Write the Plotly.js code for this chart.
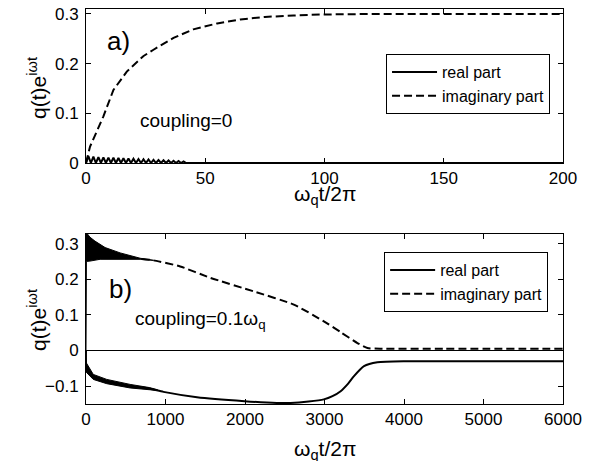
<!DOCTYPE html>
<html>
<head>
<meta charset="utf-8">
<script src="https://cdn.plot.ly/plotly-3.0.1.min.js"></script>
<style>html,body{margin:0;padding:0;background:#fff;}#chart{width:591px;height:461px;}</style>
</head>
<body>
<div id="chart"></div>
<script>
// ---------- Panel a) coupling = 0 ----------
var realT_a = [0, 1.0, 2.05, 3.1, 4.15, 5.2, 6.25, 7.3, 8.35, 9.4, 10.45, 11.5, 12.55, 13.6, 14.65, 15.7, 16.75, 17.8, 18.85, 19.9, 20.95, 22.0, 23.05, 24.1, 25.15, 26.2, 27.25, 28.3, 29.35, 30.4, 31.45, 32.5, 33.55, 34.6, 35.65, 36.7, 37.75, 38.8, 39.85, 40.9, 42, 45, 200];
var realQ_a = [0, 0.014, 0, 0.013, 0, 0.012, 0, 0.0115, 0, 0.011, 0, 0.0105, 0, 0.010, 0, 0.0095, 0, 0.009, 0, 0.0085, 0, 0.008, 0, 0.0075, 0, 0.007, 0, 0.0065, 0, 0.006, 0, 0.0055, 0, 0.005, 0, 0.0045, 0, 0.004, 0, 0.003, 0, 0, 0];
var imagT_a = [0, 1.7, 7.3, 11.5, 17.1, 24, 28.3, 36.7, 45, 55, 64.7, 75, 87, 100, 120, 150, 200];
var imagQ_a = [0, 0.033, 0.094, 0.147, 0.184, 0.215, 0.228, 0.252, 0.269, 0.281, 0.289, 0.294, 0.297, 0.299, 0.300, 0.300, 0.300];

// ---------- Panel b) coupling = 0.1 omega_q ----------
// fast-oscillation envelopes (drawn as filled bands)
var imagBandUpperT_b = [0, 8, 50, 113, 240, 429, 681, 850];
var imagBandUpperQ_b = [0.33, 0.33, 0.318, 0.307, 0.289, 0.274, 0.259, 0.253];
var imagBandLowerT_b = [0, 5, 50, 177, 429, 681, 850];
var imagBandLowerQ_b = [0, 0.25, 0.251, 0.256, 0.257, 0.256, 0.253];
var realBandUpperT_b = [0, 5, 92, 261, 555, 800, 900];
var realBandUpperQ_b = [0, -0.035, -0.067, -0.081, -0.095, -0.104, -0.110];
var realBandLowerT_b = [0, 8, 92, 261, 555, 800, 900];
var realBandLowerQ_b = [-0.06, -0.062, -0.081, -0.093, -0.105, -0.110, -0.112];
// slow parts
var imagT_b = [700, 850, 1185, 1564, 2110, 2614, 2992, 3200, 3414, 3540, 3700, 4500, 6000];
var imagQ_b = [0.257, 0.253, 0.236, 0.204, 0.166, 0.129, 0.082, 0.052, 0.021, 0.007, 0.005, 0.005, 0.005];
var realT_b = [0, 5, 92, 261, 555, 800, 975, 1396, 1996, 2400, 2573, 2800, 2992, 3100, 3203, 3300, 3371, 3497, 3665, 4044, 6000];
var realQ_b = [0, -0.048, -0.074, -0.087, -0.100, -0.107, -0.116, -0.131, -0.142, -0.147, -0.147, -0.143, -0.137, -0.128, -0.114, -0.092, -0.072, -0.044, -0.033, -0.030, -0.030];

var legendLabels = ['real part', 'imaginary part'];
var xTicks_a = [0, 50, 100, 150, 200];
var xTicks_b = [0, 1000, 2000, 3000, 4000, 5000, 6000];
var yTicks_a = [0, 0.1, 0.2, 0.3];
var yTicks_b = [-0.1, 0, 0.1, 0.2, 0.3];

function polygon(ut, uq, lt, lq) {
  return {x: ut.concat(lt.slice().reverse()), y: uq.concat(lq.slice().reverse())};
}
var imagBand = polygon(imagBandUpperT_b, imagBandUpperQ_b, imagBandLowerT_b, imagBandLowerQ_b);
var realBand = polygon(realBandUpperT_b, realBandUpperQ_b, realBandLowerT_b, realBandLowerQ_b);

var FONT = 'Arial, "Liberation Sans", sans-serif';
var DASH = '8px,4px';

var traces = [
  {x: realT_a, y: realQ_a, xaxis: 'x', yaxis: 'y', mode: 'lines', name: legendLabels[0],
   line: {color: '#000', width: 2}, legend: 'legend'},
  {x: imagT_a, y: imagQ_a, xaxis: 'x', yaxis: 'y', mode: 'lines', name: legendLabels[1],
   line: {color: '#000', width: 2, dash: DASH}, legend: 'legend'},
  {x: imagBand.x, y: imagBand.y, xaxis: 'x2', yaxis: 'y2', mode: 'lines', fill: 'toself',
   fillcolor: '#000', line: {color: '#000', width: 1}, showlegend: false, hoverinfo: 'skip'},
  {x: realBand.x, y: realBand.y, xaxis: 'x2', yaxis: 'y2', mode: 'lines', fill: 'toself',
   fillcolor: '#000', line: {color: '#000', width: 1}, showlegend: false, hoverinfo: 'skip'},
  {x: realT_b, y: realQ_b, xaxis: 'x2', yaxis: 'y2', mode: 'lines', name: legendLabels[0],
   line: {color: '#000', width: 2, shape: 'spline', smoothing: 0.6}, legend: 'legend2'},
  {x: imagT_b, y: imagQ_b, xaxis: 'x2', yaxis: 'y2', mode: 'lines', name: legendLabels[1],
   line: {color: '#000', width: 2, dash: DASH, shape: 'spline', smoothing: 0.5}, legend: 'legend2'}
];

function xAxis(range, ticks, anchor) {
  return {anchor: anchor, domain: [0, 1], range: range, tickmode: 'array', tickvals: ticks,
    ticks: 'inside', ticklen: 5, tickwidth: 1, tickcolor: '#000', showline: true, linecolor: '#000',
    linewidth: 1, mirror: 'ticks', showgrid: false, zeroline: false,
    tickfont: {family: FONT, size: 17, color: '#000'}, ticklabelstandoff: 0};
}
function yAxis(range, ticks, domain, anchor, zl) {
  return {anchor: anchor, domain: domain, range: range, tickmode: 'array', tickvals: ticks,
    ticks: 'inside', ticklen: 5, tickwidth: 1, tickcolor: '#000', showline: true, linecolor: '#000',
    linewidth: 1, mirror: 'ticks', showgrid: false, zeroline: zl, zerolinecolor: '#000', zerolinewidth: 1,
    tickfont: {family: FONT, size: 17, color: '#000'}, ticklabelstandoff: 3};
}

var legendCommon = {xanchor: 'left', yanchor: 'top', bgcolor: '#fff', bordercolor: '#000', borderwidth: 1,
  font: {family: FONT, size: 16, color: '#000'}, itemwidth: 45, tracegroupgap: 0};

function txt(text, xref, yref, x, y, size, xa, ya, angle) {
  return {text: text, xref: xref, yref: yref, x: x, y: y, xanchor: xa || 'center', yanchor: ya || 'middle',
    textangle: angle || 0, showarrow: false, font: {family: FONT, size: size, color: '#000'}};
}

var Y_TITLE = 'q(t)e<sup>iωt</sup>';
var X_TITLE = 'ω<sub>q</sub>t/2π';

var layout = {
  width: 591, height: 461,
  margin: {l: 86, r: 28, t: 9, b: 57},
  paper_bgcolor: '#fff', plot_bgcolor: '#fff',
  font: {family: FONT, color: '#000'},
  showlegend: true,
  xaxis: xAxis([0, 200], xTicks_a, 'y'),
  yaxis: yAxis([0, 0.31], yTicks_a, [0.6101, 1], 'x', false),
  xaxis2: xAxis([0, 6000], xTicks_b, 'y2'),
  yaxis2: yAxis([-0.15, 0.327], yTicks_b, [0, 0.4304], 'x2', true),
  legend: Object.assign({x: 0.629, y: 0.886}, legendCommon),
  legend2: Object.assign({x: 0.625, y: 0.3848}, legendCommon),
  annotations: [
    txt('a)', 'x domain', 'y domain', 0.0671, 0.792, 26),
    txt('coupling=0', 'x domain', 'y domain', 0.2096, 0.279, 19),
    txt(X_TITLE, 'x domain', 'y domain', 0.5, -0.112, 21, 'center', 'top'),
    txt(Y_TITLE, 'paper', 'paper', -0.1027, 0.8, 21, 'center', 'middle', -90),
    txt('b)', 'x2 domain', 'y2 domain', 0.0713, 0.676, 26),
    txt('coupling=0.1ω<sub>q</sub>', 'x2 domain', 'y2 domain', 0.0985, 0.494, 19, 'left', 'middle'),
    txt(X_TITLE, 'x2 domain', 'y2 domain', 0.5, -0.18, 21, 'center', 'top'),
    txt(Y_TITLE, 'paper', 'paper', -0.1027, 0.2127, 21, 'center', 'middle', -90)
  ]
};

Plotly.newPlot('chart', traces, layout, {staticPlot: true, displayModeBar: false});
</script>
</body>
</html>
